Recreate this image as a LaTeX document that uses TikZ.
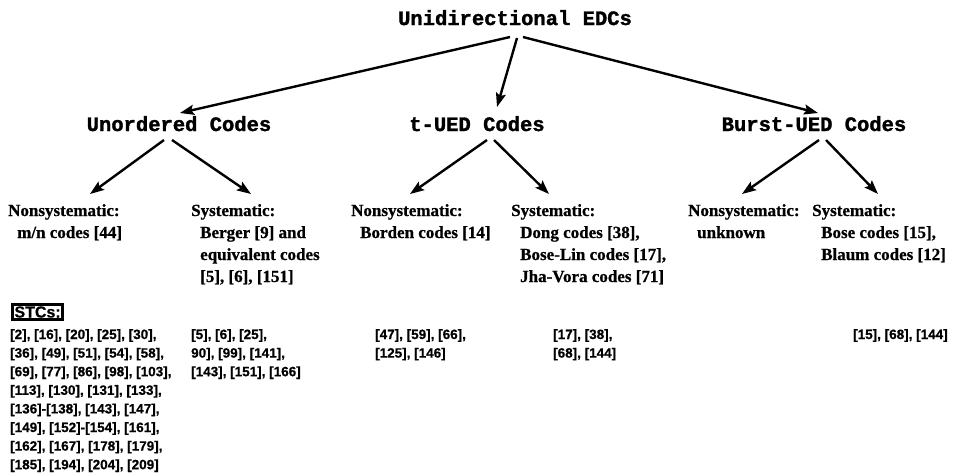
\documentclass[tikz,border=0pt]{standalone}
\usepackage{fontspec}
\setmainfont[BoldFeatures={FakeBold=0.8}]{Liberation Serif}
\newfontfamily\courfont[BoldFeatures={FakeBold=1.5}]{Liberation Mono}
\newfontfamily\helvfont[BoldFeatures={FakeBold=0.6}]{Liberation Sans}
\usetikzlibrary{arrows.meta}
\newcommand{\ind}{\hspace*{9pt}}
\begin{document}
\begin{tikzpicture}[x=1pt,y=-1pt,
  arr/.style={line width=2.4pt, -{Stealth[length=14pt,width=10pt,inset=2.5pt]}},
  toplabel/.style={font=\courfont\bfseries\fontsize{20.5}{24}\selectfont, inner sep=0pt, anchor=base},
  cat/.style={font=\bfseries\fontsize{17}{22}\selectfont, inner sep=0pt, anchor=base west},
  lst/.style={font=\helvfont\bfseries\fontsize{13.5}{18.6}\selectfont, inner sep=0pt, anchor=base west},
  stcbox/.style={draw, line width=3pt, inner xsep=2pt, inner ysep=2pt, anchor=west,
    font=\helvfont\bfseries\fontsize{16}{18}\selectfont}
]
\useasboundingbox (0,0) rectangle (979,475);

% level 1 and 2
\node[toplabel] (title) at (515,25) {Unidirectional EDCs};
\node[toplabel] (uo) at (179,131) {Unordered Codes};
\node[toplabel] (tu) at (477,131) {t-UED Codes};
\node[toplabel] (bu) at (814,131) {Burst-UED Codes};

% level 3
\node[cat] (n1) at (8,216) {\begin{tabular}[t]{@{}l@{}}Nonsystematic:\\\ind m/n codes [44]\end{tabular}};
\node[cat] (s1) at (191,216) {\begin{tabular}[t]{@{}l@{}}Systematic:\\\ind Berger [9] and\\\ind equivalent codes\\\ind [5], [6], [151]\end{tabular}};
\node[cat] (n2) at (351,216) {\begin{tabular}[t]{@{}l@{}}Nonsystematic:\\\ind Borden codes [14]\end{tabular}};
\node[cat] (s2) at (511,216) {\begin{tabular}[t]{@{}l@{}}Systematic:\\\ind Dong codes [38],\\\ind Bose-Lin codes [17],\\\ind Jha-Vora codes [71]\end{tabular}};
\node[cat] (n3) at (688,216) {\begin{tabular}[t]{@{}l@{}}Nonsystematic:\\\ind unknown\end{tabular}};
\node[cat] (s3) at (812,216) {\begin{tabular}[t]{@{}l@{}}Systematic:\\\ind Bose codes [15],\\\ind Blaum codes [12]\end{tabular}};

% STCs
\node[stcbox] (stc) at (11,312) {STCs:};
\node[lst] (l1) at (10,339) {\begin{tabular}[t]{@{}l@{}}[2], [16], [20], [25], [30],\\\relax [36], [49], [51], [54], [58],\\\relax [69], [77], [86], [98], [103],\\\relax [113], [130], [131], [133],\\\relax [136]-[138], [143], [147],\\\relax [149], [152]-[154], [161],\\\relax [162], [167], [178], [179],\\\relax [185], [194], [204], [209]\end{tabular}};
\node[lst] (l2) at (191,339) {\begin{tabular}[t]{@{}l@{}}[5], [6], [25],\\ 90], [99], [141],\\\relax [143], [151], [166]\end{tabular}};
\node[lst] (l3) at (375,339) {\begin{tabular}[t]{@{}l@{}}[47], [59], [66],\\\relax [125], [146]\end{tabular}};
\node[lst] (l4) at (553,339) {\begin{tabular}[t]{@{}l@{}}[17], [38],\\\relax [68], [144]\end{tabular}};
\node[lst] (l5) at (853,339) {[15], [68], [144]};

% connectors
\draw[arr] ([shift={(-5,12)}]title.base) -- ([shift={(1,-18)}]uo.base);
\draw[arr] ([shift={(2,13)}]title.base) -- ([shift={(20,-24)}]tu.base);
\draw[arr] ([shift={(8,12)}]title.base) -- ([shift={(4,-18)}]bu.base);

\draw[arr] ([shift={(-15,9)}]uo.base) -- ([shift={(82,-22)}]n1.base west);
\draw[arr] ([shift={(-7,9)}]uo.base) -- ([shift={(60,-22)}]s1.base west);
\draw[arr] ([shift={(10,9)}]tu.base) -- ([shift={(59,-22)}]n2.base west);
\draw[arr] ([shift={(17,9)}]tu.base) -- ([shift={(38,-22)}]s2.base west);
\draw[arr] ([shift={(5,9)}]bu.base) -- ([shift={(54,-22)}]n3.base west);
\draw[arr] ([shift={(12,9)}]bu.base) -- ([shift={(66,-22)}]s3.base west);
\end{tikzpicture}
\end{document}
